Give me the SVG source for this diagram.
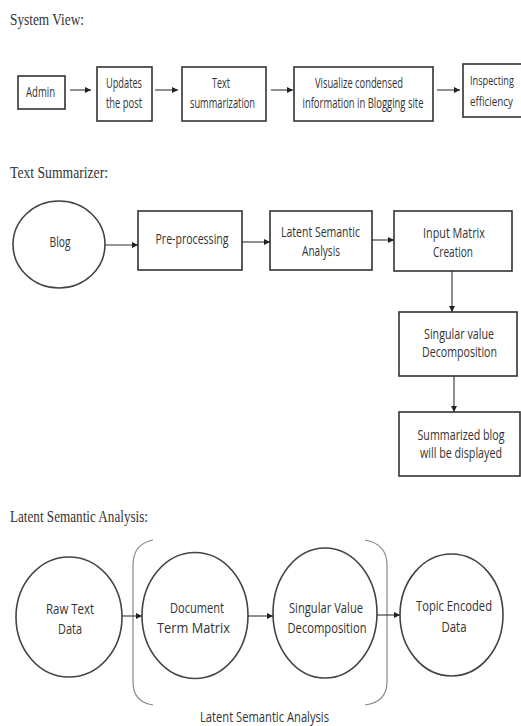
<svg xmlns="http://www.w3.org/2000/svg" width="521" height="726" viewBox="0 0 521 726">
<defs>
<marker id="ah" viewBox="0 0 10 10" refX="10" refY="5" markerWidth="6" markerHeight="6" markerUnits="userSpaceOnUse" orient="auto">
<path d="M0,0 L10,5 L0,10 z" fill="#222"/>
</marker>
</defs>
<style>
.title{font-family:"Liberation Serif","Times New Roman",serif;font-size:16.5px;fill:#333}
.lbl{font-family:"Open Sans","Liberation Sans",sans-serif;font-size:14px;fill:#333;text-anchor:middle}
.sm{font-size:12.5px}
.big{font-size:15px}
.box{fill:#fff;stroke:#333;stroke-width:1.6}
.circ{fill:#fff;stroke:#444;stroke-width:1.6}
.conn line{stroke:#333;stroke-width:1.1;marker-end:url(#ah)}
.brk{fill:none;stroke:#888;stroke-width:1.2}
</style>
<rect width="521" height="726" fill="#fff"/>

<text class="title" x="10" y="25" textLength="74" lengthAdjust="spacingAndGlyphs">System View:</text>
<text class="title" x="10" y="178" textLength="98" lengthAdjust="spacingAndGlyphs">Text Summarizer:</text>
<text class="title" x="10" y="522" textLength="138" lengthAdjust="spacingAndGlyphs">Latent Semantic Analysis:</text>

<g id="admin"><rect class="box" x="18" y="76" width="47" height="33"/>
<text class="lbl" x="40.5" y="97" textLength="29" lengthAdjust="spacingAndGlyphs">Admin</text></g>
<g id="updates"><rect class="box" x="97" y="67" width="55" height="54"/>
<text class="lbl" x="124" y="88" textLength="36" lengthAdjust="spacingAndGlyphs">Updates</text>
<text class="lbl" x="124" y="108" textLength="36" lengthAdjust="spacingAndGlyphs">the post</text></g>
<g id="textsum"><rect class="box" x="182" y="67" width="84" height="54"/>
<text class="lbl" x="221" y="88" textLength="18" lengthAdjust="spacingAndGlyphs">Text</text>
<text class="lbl" x="222.5" y="108" textLength="65" lengthAdjust="spacingAndGlyphs">summarization</text></g>
<g id="visualize"><rect class="box" x="294" y="67" width="139" height="54"/>
<text class="lbl" x="359" y="88" textLength="88" lengthAdjust="spacingAndGlyphs">Visualize condensed</text>
<text class="lbl" x="363" y="108" textLength="121" lengthAdjust="spacingAndGlyphs">information in Blogging site</text></g>
<g id="inspecting"><rect class="box" x="463" y="64" width="62" height="53"/>
<text class="lbl sm" x="492" y="85" textLength="44" lengthAdjust="spacingAndGlyphs">Inspecting</text>
<text class="lbl sm" x="491.5" y="106" textLength="43" lengthAdjust="spacingAndGlyphs">efficiency</text></g>

<g id="blog"><ellipse class="circ" cx="59" cy="244.5" rx="46" ry="43.5"/>
<text class="lbl" x="60" y="247" textLength="21" lengthAdjust="spacingAndGlyphs">Blog</text></g>
<g id="preproc"><rect class="box" x="138" y="211" width="104" height="59"/>
<text class="lbl" x="192" y="244" textLength="73" lengthAdjust="spacingAndGlyphs">Pre-processing</text></g>
<g id="lsa"><rect class="box" x="270" y="211" width="102" height="59"/>
<text class="lbl" x="320.5" y="237" textLength="79" lengthAdjust="spacingAndGlyphs">Latent Semantic</text>
<text class="lbl" x="321" y="256" textLength="38" lengthAdjust="spacingAndGlyphs">Analysis</text></g>
<g id="inputmatrix"><rect class="box" x="394" y="211" width="118" height="60"/>
<text class="lbl" x="454" y="238" textLength="62" lengthAdjust="spacingAndGlyphs">Input Matrix</text>
<text class="lbl" x="453" y="257" textLength="40" lengthAdjust="spacingAndGlyphs">Creation</text></g>
<g id="svd1"><rect class="box" x="399" y="312" width="118" height="64"/>
<text class="lbl" x="459" y="339" textLength="70" lengthAdjust="spacingAndGlyphs">Singular value</text>
<text class="lbl" x="459.5" y="357" textLength="75" lengthAdjust="spacingAndGlyphs">Decomposition</text></g>
<g id="summarized"><rect class="box" x="399" y="412" width="121" height="64"/>
<text class="lbl" x="461" y="440" textLength="87" lengthAdjust="spacingAndGlyphs">Summarized blog</text>
<text class="lbl" x="461" y="458" textLength="82" lengthAdjust="spacingAndGlyphs">will be displayed</text></g>

<g id="rawtext"><ellipse class="circ" cx="69" cy="617" rx="53" ry="60"/>
<text class="lbl big" x="70" y="614" textLength="48" lengthAdjust="spacingAndGlyphs">Raw Text</text>
<text class="lbl big" x="70" y="634" textLength="24" lengthAdjust="spacingAndGlyphs">Data</text></g>
<g id="dtm"><ellipse class="circ" cx="195" cy="615.5" rx="53" ry="63"/>
<text class="lbl big" x="197" y="613" textLength="54" lengthAdjust="spacingAndGlyphs">Document</text>
<text class="lbl big" x="193.5" y="633" textLength="73" lengthAdjust="spacingAndGlyphs">Term Matrix</text></g>
<g id="svd2"><ellipse class="circ" cx="325" cy="613" rx="52" ry="65"/>
<text class="lbl big" x="326" y="613" textLength="74" lengthAdjust="spacingAndGlyphs">Singular Value</text>
<text class="lbl big" x="327" y="633" textLength="79" lengthAdjust="spacingAndGlyphs">Decomposition</text></g>
<g id="topic"><ellipse class="circ" cx="451.5" cy="615" rx="51.5" ry="61"/>
<text class="lbl big" x="454" y="611" textLength="76" lengthAdjust="spacingAndGlyphs">Topic Encoded</text>
<text class="lbl big" x="454" y="632" textLength="25" lengthAdjust="spacingAndGlyphs">Data</text></g>
<g id="lsagroup">
<path class="brk" d="M153,540 Q133,544 133,565 L133,682 Q133,702 153,705"/>
<path class="brk" d="M365,540 Q387,544 387,565 L387,682 Q387,702 365,705"/>
<text class="lbl" x="264.5" y="722" textLength="129" lengthAdjust="spacingAndGlyphs">Latent Semantic Analysis</text>
</g>

<g class="conn">
<line x1="70" y1="90" x2="91" y2="90"/>
<line x1="155" y1="90" x2="178" y2="90"/>
<line x1="271" y1="90" x2="293" y2="90"/>
<line x1="437" y1="90" x2="460" y2="90"/>
<line x1="105" y1="245" x2="138" y2="245"/>
<line x1="242" y1="242" x2="270" y2="242"/>
<line x1="372" y1="240" x2="394" y2="240"/>
<line x1="452" y1="271" x2="452" y2="312"/>
<line x1="454" y1="376" x2="454" y2="412"/>
<line x1="122" y1="616" x2="142" y2="616"/>
<line x1="248" y1="616" x2="273" y2="616"/>
<line x1="377" y1="615" x2="400" y2="615"/>
</g>
</svg>
